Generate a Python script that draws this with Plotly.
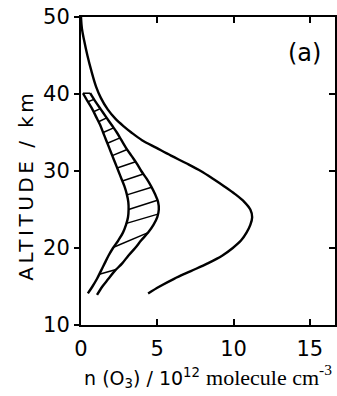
import numpy as np
import plotly.graph_objects as go

# Outer (large) ozone profile: altitude (km), number density (1e12 molecule cm-3)
outer_alt = [50.0, 48.5, 47.0, 45.0, 43.0, 41.0, 39.5, 38.0, 36.8, 35.8, 35.0, 34.0, 33.0,
             32.0, 31.0, 30.0, 29.0, 28.0, 27.0, 26.0, 25.0, 24.0, 23.0, 22.0, 21.0,
             20.0, 19.0, 18.0, 17.0, 16.0, 15.0, 14.1]
outer_n = [0.0, 0.06, 0.2, 0.42, 0.68, 0.98, 1.3, 1.75, 2.25, 2.8, 3.3, 4.0, 4.95,
           5.9, 6.9, 7.85, 8.65, 9.4, 10.1, 10.7, 11.1, 11.22, 11.1, 10.85, 10.5,
           9.95, 9.25, 8.3, 7.2, 6.1, 5.15, 4.4]

# Shaded band: left and right boundaries
left_alt = [40.1, 39.0, 38.0, 37.0, 36.0, 35.0, 34.0, 33.0, 32.0, 31.0, 30.0, 29.0, 28.0,
            27.0, 26.0, 25.0, 24.0, 23.0, 22.0, 21.0, 20.0, 19.0, 18.0, 17.0, 16.0, 15.0, 14.1]
left_n = [0.13, 0.45, 0.75, 1.0, 1.25, 1.45, 1.65, 1.85, 2.05, 2.25, 2.45, 2.65, 2.85,
          3.0, 3.1, 3.12, 3.08, 2.95, 2.75, 2.45, 2.1, 1.8, 1.55, 1.3, 1.05, 0.75, 0.45]
right_alt = [40.1, 39.0, 38.0, 37.0, 36.0, 35.0, 34.0, 33.0, 32.0, 31.0, 30.0, 29.0, 28.0,
             27.0, 26.0, 25.0, 24.0, 23.0, 22.0, 21.0, 20.0, 19.0, 18.0, 17.0, 16.0, 15.0, 13.9]
right_n = [0.6, 0.95, 1.3, 1.65, 2.0, 2.35, 2.65, 2.95, 3.3, 3.65, 3.95, 4.3, 4.6,
           4.85, 5.05, 5.1, 5.0, 4.75, 4.4, 3.95, 3.55, 3.1, 2.7, 2.2, 1.8, 1.4, 1.05]

# Hatch lines: altitude where each line meets the left and the right boundary
hatch_left_alt = [40.1, 39.0, 37.7, 36.4, 35.0, 33.6, 32.0, 30.4, 28.7, 26.9, 25.0, 23.2, 20.1, 16.6]
hatch_right_alt = [40.1, 39.3, 38.1, 36.9, 35.6, 34.3, 32.8, 31.2, 29.6, 27.9, 26.2, 24.4, 22.0, 17.2]

x_ticks = [0, 5, 10, 15]
y_ticks = [10, 20, 30, 40, 50]

def n_at(alt_list, n_list, a):
    return float(np.interp(a, alt_list[::-1], n_list[::-1]))

hx, hy = [], []
for la, ra in zip(hatch_left_alt, hatch_right_alt):
    hx += [n_at(left_alt, left_n, la), n_at(right_alt, right_n, ra), None]
    hy += [la, ra, None]

fig = go.Figure()
line_style = dict(color="black", width=2.4, shape="spline", smoothing=1.0)
fig.add_trace(go.Scatter(x=outer_n, y=outer_alt, mode="lines", line=line_style, showlegend=False))
fig.add_trace(go.Scatter(x=left_n, y=left_alt, mode="lines", line=line_style, showlegend=False))
fig.add_trace(go.Scatter(x=right_n, y=right_alt, mode="lines", line=line_style, showlegend=False))
fig.add_trace(go.Scatter(x=hx, y=hy, mode="lines", line=dict(color="black", width=1.5), showlegend=False))
# invisible trace to anchor mirrored axes
fig.add_trace(go.Scatter(x=[0], y=[10], xaxis="x2", yaxis="y2", mode="markers",
                         marker=dict(opacity=0), showlegend=False, hoverinfo="skip"))

xr = [0, 16.65]
yr = [10, 50]
tickfont = dict(family="DejaVu Sans", size=21, color="black")
xtitle = ("n (O<sub>3</sub>) / 10<sup>12</sup> "
          "<span style='font-family:Liberation Serif;font-size:22px'>molecule cm<sup>-3</sup></span>")
fig.update_layout(
    width=337, height=396,
    margin=dict(l=81, r=2, t=17, b=71),
    paper_bgcolor="white", plot_bgcolor="white",
    xaxis=dict(range=xr, tickvals=x_ticks, ticks="inside", ticklen=6, tickwidth=1.5,
               tickcolor="black", showline=True, linecolor="black", linewidth=2,
               showgrid=False, zeroline=False, tickfont=tickfont, ticklabelstandoff=4,
               title=dict(text=xtitle,
                          font=dict(family="DejaVu Sans", size=19, color="black"), standoff=11)),
    xaxis2=dict(range=xr, overlaying="x", side="top", tickvals=x_ticks, ticks="inside",
                ticklen=6, tickwidth=1.5, tickcolor="black", showticklabels=False,
                showline=True, linecolor="black", linewidth=2, showgrid=False, zeroline=False),
    yaxis=dict(range=yr, tickvals=y_ticks, ticks="outside", ticklen=5, tickwidth=1.5,
               tickcolor="black", showline=True, linecolor="black", linewidth=2,
               showgrid=False, zeroline=False, tickfont=tickfont),
    yaxis2=dict(range=yr, overlaying="y", side="right", tickvals=y_ticks, ticks="inside",
                ticklen=6, tickwidth=1.5, tickcolor="black", showticklabels=False,
                showline=True, linecolor="black", linewidth=2, showgrid=False, zeroline=False),
    annotations=[
        dict(text="(a)", x=14.67, y=45.3, xref="x", yref="y", showarrow=False,
             font=dict(family="DejaVu Sans", size=24, color="black")),
        dict(text="<span style='letter-spacing:3.5px'>ALTITUDE / km</span>",
             x=-0.217, y=0.455, xref="paper", yref="paper", textangle=-90,
             xanchor="center", yanchor="middle", showarrow=False,
             font=dict(family="DejaVu Sans", size=20, color="black")),
    ],
)
fig.write_html("out.html", config={"displayModeBar": False},
               post_script="document.body.style.margin='0';document.body.style.overflow='hidden';")
